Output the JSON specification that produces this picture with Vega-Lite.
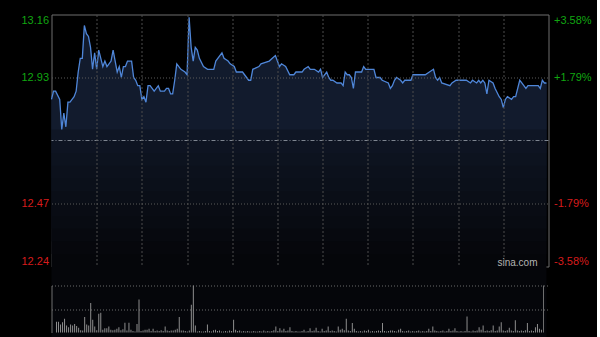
{
  "$schema": "https://vega.github.io/schema/vega-lite/v6.json",
  "background": "#000000",
  "padding": {"left": 19.5, "top": 13.5, "right": 4, "bottom": 4},
  "config": {
    "view": {"stroke": null},
    "font": "Liberation Sans",
    "axis": {"labelFont": "Liberation Sans", "labelFontSize": 11, "title": null}
  },
  "datasets": {
    "price": [
      {"t":0,"p":12.85},{"t":1,"p":12.88},{"t":2,"p":12.88},{"t":4,"p":12.85},{"t":5,"p":12.74},{"t":6,"p":12.80},{"t":7,"p":12.75},{"t":8,"p":12.84},{"t":9,"p":12.84},{"t":10,"p":12.85},
      {"t":11,"p":12.86},{"t":12,"p":12.88},{"t":13,"p":12.95},{"t":14,"p":13.00},{"t":15,"p":13.00},{"t":16,"p":13.12},{"t":17,"p":13.09},{"t":18,"p":13.08},{"t":19,"p":13.04},{"t":20,"p":12.96},
      {"t":21,"p":13.02},{"t":22,"p":12.96},{"t":23,"p":13.03},{"t":25,"p":12.97},{"t":26,"p":12.99},{"t":27,"p":12.97},{"t":28,"p":12.98},{"t":29,"p":12.99},{"t":30,"p":13.03},{"t":31,"p":12.99},
      {"t":32,"p":12.95},{"t":33,"p":12.97},{"t":34,"p":12.93},{"t":35,"p":12.97},{"t":36,"p":12.97},{"t":37,"p":12.99},{"t":39,"p":12.99},{"t":40,"p":12.93},{"t":41,"p":12.92},{"t":42,"p":12.90},
      {"t":43,"p":12.90},{"t":44,"p":12.85},{"t":45,"p":12.86},{"t":46,"p":12.84},{"t":47,"p":12.90},{"t":48,"p":12.90},{"t":49,"p":12.89},{"t":50,"p":12.88},{"t":52,"p":12.90},{"t":53,"p":12.88},
      {"t":55,"p":12.88},{"t":56,"p":12.89},{"t":57,"p":12.89},{"t":58,"p":12.87},{"t":59,"p":12.87},{"t":60,"p":12.92},{"t":61,"p":12.98},{"t":63,"p":12.96},{"t":65,"p":12.95},{"t":66,"p":12.94},
      {"t":67,"p":13.15},{"t":68,"p":13.04},{"t":69,"p":12.99},{"t":70,"p":13.04},{"t":71,"p":13.03},{"t":72,"p":13.00},{"t":74,"p":12.97},{"t":76,"p":12.96},{"t":79,"p":12.96},{"t":80,"p":12.99},
      {"t":83,"p":13.02},{"t":84,"p":13.00},{"t":86,"p":12.99},{"t":87,"p":12.98},{"t":89,"p":12.97},{"t":90,"p":12.95},{"t":93,"p":12.95},{"t":94,"p":12.94},{"t":96,"p":12.92},{"t":97,"p":12.92},
      {"t":98,"p":12.96},{"t":101,"p":12.97},{"t":102,"p":12.98},{"t":106,"p":12.99},{"t":109,"p":13.01},{"t":110,"p":12.99},{"t":111,"p":12.97},{"t":112,"p":12.98},{"t":114,"p":12.97},{"t":116,"p":12.94},
      {"t":118,"p":12.94},{"t":119,"p":12.95},{"t":122,"p":12.95},{"t":123,"p":12.96},{"t":125,"p":12.97},{"t":126,"p":12.96},{"t":128,"p":12.96},{"t":130,"p":12.95},{"t":131,"p":12.96},{"t":132,"p":12.93},
      {"t":134,"p":12.95},{"t":135,"p":12.93},{"t":136,"p":12.92},{"t":137,"p":12.92},{"t":139,"p":12.91},{"t":141,"p":12.91},{"t":142,"p":12.90},{"t":143,"p":12.95},{"t":144,"p":12.94},{"t":145,"p":12.94},
      {"t":146,"p":12.93},{"t":147,"p":12.89},{"t":148,"p":12.95},{"t":151,"p":12.95},{"t":152,"p":12.97},{"t":153,"p":12.96},{"t":157,"p":12.96},{"t":158,"p":12.93},{"t":160,"p":12.93},{"t":161,"p":12.92},
      {"t":164,"p":12.91},{"t":165,"p":12.89},{"t":166,"p":12.90},{"t":167,"p":12.92},{"t":168,"p":12.93},{"t":170,"p":12.92},{"t":171,"p":12.91},{"t":172,"p":12.92},{"t":175,"p":12.92},{"t":176,"p":12.94},
      {"t":182,"p":12.94},{"t":184,"p":12.95},{"t":186,"p":12.96},{"t":187,"p":12.93},{"t":188,"p":12.92},{"t":189,"p":12.93},{"t":190,"p":12.91},{"t":194,"p":12.90},{"t":195,"p":12.91},{"t":197,"p":12.92},
      {"t":202,"p":12.92},{"t":204,"p":12.91},{"t":205,"p":12.92},{"t":207,"p":12.91},{"t":208,"p":12.92},{"t":209,"p":12.91},{"t":210,"p":12.92},{"t":211,"p":12.91},{"t":212,"p":12.87},{"t":213,"p":12.92},
      {"t":215,"p":12.91},{"t":216,"p":12.89},{"t":218,"p":12.86},{"t":219,"p":12.85},{"t":220,"p":12.82},{"t":221,"p":12.85},{"t":222,"p":12.86},{"t":224,"p":12.85},{"t":225,"p":12.86},{"t":226,"p":12.86},
      {"t":228,"p":12.92},{"t":229,"p":12.91},{"t":231,"p":12.89},{"t":232,"p":12.90},{"t":237,"p":12.90},{"t":238,"p":12.89},{"t":239,"p":12.92},{"t":240,"p":12.91},{"t":241,"p":12.91}
    ],
    "vol": [
      {"t":0,"v":23},{"t":1,"v":23},{"t":2,"v":17},{"t":3,"v":22},{"t":4,"v":29},{"t":5,"v":15},{"t":6,"v":11},{"t":7,"v":17},{"t":8,"v":15},{"t":9,"v":18},
      {"t":10,"v":14},{"t":11,"v":10},{"t":12,"v":5},{"t":13,"v":4},{"t":14,"v":33},{"t":15,"v":17},{"t":16,"v":15},{"t":17,"v":63},{"t":18,"v":27},{"t":19,"v":13},
      {"t":20,"v":5},{"t":21,"v":40},{"t":22,"v":42},{"t":23,"v":6},{"t":24,"v":9},{"t":25,"v":9},{"t":26,"v":13},{"t":27,"v":6},{"t":28,"v":5},{"t":29,"v":6},
      {"t":30,"v":8},{"t":31,"v":11},{"t":32,"v":5},{"t":33,"v":7},{"t":34,"v":21},{"t":35,"v":4},{"t":36,"v":21},{"t":37,"v":6},{"t":38,"v":3},{"t":39,"v":2},
      {"t":40,"v":18},{"t":41,"v":70},{"t":42,"v":3},{"t":43,"v":4},{"t":44,"v":6},{"t":45,"v":6},{"t":46,"v":8},{"t":47,"v":3},{"t":48,"v":8},{"t":49,"v":3},
      {"t":50,"v":4},{"t":51,"v":3},{"t":52,"v":5},{"t":53,"v":3},{"t":54,"v":13},{"t":55,"v":4},{"t":56,"v":3},{"t":57,"v":4},{"t":58,"v":4},{"t":59,"v":6},
      {"t":60,"v":8},{"t":61,"v":33},{"t":62,"v":4},{"t":63,"v":4},{"t":64,"v":3},{"t":65,"v":2},{"t":66,"v":4},{"t":67,"v":59},{"t":68,"v":100},{"t":69,"v":15},
      {"t":70,"v":2},{"t":71,"v":3},{"t":72,"v":2},{"t":73,"v":2},{"t":74,"v":3},{"t":75,"v":17},{"t":76,"v":3},{"t":77,"v":2},{"t":78,"v":5},{"t":79,"v":6},
      {"t":80,"v":3},{"t":81,"v":4},{"t":82,"v":2},{"t":83,"v":2},{"t":84,"v":3},{"t":85,"v":2},{"t":86,"v":4},{"t":87,"v":3},{"t":88,"v":27},{"t":89,"v":6},
      {"t":90,"v":3},{"t":91,"v":4},{"t":92,"v":2},{"t":93,"v":3},{"t":94,"v":2},{"t":95,"v":3},{"t":96,"v":2},{"t":97,"v":2},{"t":98,"v":3},{"t":99,"v":2},
      {"t":100,"v":2},{"t":101,"v":3},{"t":102,"v":2},{"t":103,"v":4},{"t":104,"v":2},{"t":105,"v":3},{"t":106,"v":2},{"t":107,"v":3},{"t":108,"v":5},{"t":109,"v":13},
      {"t":110,"v":3},{"t":111,"v":9},{"t":112,"v":4},{"t":113,"v":8},{"t":114,"v":3},{"t":115,"v":4},{"t":116,"v":11},{"t":117,"v":3},{"t":118,"v":2},{"t":119,"v":3},
      {"t":120,"v":2},{"t":121,"v":2},{"t":122,"v":3},{"t":123,"v":6},{"t":124,"v":2},{"t":125,"v":3},{"t":126,"v":9},{"t":127,"v":3},{"t":128,"v":4},{"t":129,"v":10},
      {"t":130,"v":3},{"t":131,"v":2},{"t":132,"v":8},{"t":133,"v":3},{"t":134,"v":4},{"t":135,"v":13},{"t":136,"v":3},{"t":137,"v":4},{"t":138,"v":3},{"t":139,"v":2},
      {"t":140,"v":13},{"t":141,"v":6},{"t":142,"v":8},{"t":143,"v":5},{"t":144,"v":29},{"t":145,"v":4},{"t":146,"v":3},{"t":147,"v":20},{"t":148,"v":8},{"t":149,"v":3},
      {"t":150,"v":2},{"t":151,"v":3},{"t":152,"v":2},{"t":153,"v":4},{"t":154,"v":3},{"t":155,"v":6},{"t":156,"v":2},{"t":157,"v":3},{"t":158,"v":2},{"t":159,"v":3},
      {"t":160,"v":4},{"t":161,"v":3},{"t":162,"v":20},{"t":163,"v":3},{"t":164,"v":2},{"t":165,"v":3},{"t":166,"v":4},{"t":167,"v":4},{"t":168,"v":3},{"t":169,"v":2},
      {"t":170,"v":6},{"t":171,"v":8},{"t":172,"v":3},{"t":173,"v":2},{"t":174,"v":3},{"t":175,"v":4},{"t":176,"v":2},{"t":177,"v":3},{"t":178,"v":2},{"t":179,"v":3},
      {"t":180,"v":4},{"t":181,"v":2},{"t":182,"v":3},{"t":183,"v":2},{"t":184,"v":3},{"t":185,"v":8},{"t":186,"v":3},{"t":187,"v":13},{"t":188,"v":4},{"t":189,"v":3},
      {"t":190,"v":2},{"t":191,"v":3},{"t":192,"v":4},{"t":193,"v":2},{"t":194,"v":3},{"t":195,"v":8},{"t":196,"v":3},{"t":197,"v":4},{"t":198,"v":9},{"t":199,"v":3},
      {"t":200,"v":2},{"t":201,"v":3},{"t":202,"v":2},{"t":203,"v":3},{"t":204,"v":34},{"t":205,"v":3},{"t":206,"v":2},{"t":207,"v":4},{"t":208,"v":3},{"t":209,"v":4},
      {"t":210,"v":11},{"t":211,"v":6},{"t":212,"v":15},{"t":213,"v":3},{"t":214,"v":4},{"t":215,"v":3},{"t":216,"v":5},{"t":217,"v":15},{"t":218,"v":3},{"t":219,"v":4},
      {"t":220,"v":13},{"t":221,"v":22},{"t":222,"v":4},{"t":223,"v":3},{"t":224,"v":5},{"t":225,"v":10},{"t":226,"v":4},{"t":227,"v":3},{"t":228,"v":26},{"t":229,"v":4},
      {"t":230,"v":3},{"t":231,"v":4},{"t":232,"v":3},{"t":233,"v":5},{"t":234,"v":20},{"t":235,"v":3},{"t":236,"v":4},{"t":237,"v":3},{"t":238,"v":11},{"t":239,"v":18},
      {"t":240,"v":8},{"t":241,"v":6}
    ]
  },
  "bounds": "flush",
  "spacing": 19,
  "vconcat": [
    {
      "width": 497,
      "height": 252,
      "view": {"stroke": "#6e6e6e", "strokeWidth": 1},
      "data": {"name": "price"},
      "resolve": {"scale": {"y": "independent"}},
      "layer": [
        {
          "layer": [
            {
              "mark": {"type": "area", "interpolate": "linear", "color": "#05060a"},
              "encoding": {
                "x": {
                  "field": "t", "type": "quantitative",
                  "scale": {"domain": [0, 242], "nice": false, "zero": false},
                  "axis": {"values": [22, 44, 66, 88, 110, 132, 154, 176, 198, 220], "grid": true, "gridColor": "#4c4c4c", "gridDash": [2, 2], "labels": false, "ticks": false, "domain": false, "zindex": 1}
                },
                "y": {
                  "field": "p", "type": "quantitative",
                  "scale": {"domain": [12.24, 13.16], "nice": false, "zero": false},
                  "axis": {
                    "orient": "left",
                    "values": [12.24, 12.47, 12.93, 13.16],
                    "format": ".2f",
                    "grid": true,
                    "gridColor": "#5a5a5a",
                    "gridDash": [1, 2],
                    "gridOpacity": {"condition": {"test": "datum.value < 12.3 || datum.value > 13.1", "value": 0}, "value": 1},
                    "ticks": false,
                    "domain": false,
                    "labelPadding": 3,
                    "labelFlush": true,
                    "labelColor": {"condition": {"test": "datum.value > 12.7", "value": "#11a611"}, "value": "#d81c1c"},
                    "zindex": 1
                  }
                }
              }
            },
            {"mark": {"type": "area", "color": "#06070c"}, "encoding": {"x": {"field": "t", "type": "quantitative"}, "y": {"field": "p", "type": "quantitative"}, "y2": {"datum": 12.286}}},
            {"mark": {"type": "area", "color": "#07090f"}, "encoding": {"x": {"field": "t", "type": "quantitative"}, "y": {"field": "p", "type": "quantitative"}, "y2": {"datum": 12.332}}},
            {"mark": {"type": "area", "color": "#080b12"}, "encoding": {"x": {"field": "t", "type": "quantitative"}, "y": {"field": "p", "type": "quantitative"}, "y2": {"datum": 12.378}}},
            {"mark": {"type": "area", "color": "#090c14"}, "encoding": {"x": {"field": "t", "type": "quantitative"}, "y": {"field": "p", "type": "quantitative"}, "y2": {"datum": 12.424}}},
            {"mark": {"type": "area", "color": "#0a0e17"}, "encoding": {"x": {"field": "t", "type": "quantitative"}, "y": {"field": "p", "type": "quantitative"}, "y2": {"datum": 12.47}}},
            {"mark": {"type": "area", "color": "#0b101a"}, "encoding": {"x": {"field": "t", "type": "quantitative"}, "y": {"field": "p", "type": "quantitative"}, "y2": {"datum": 12.516}}},
            {"mark": {"type": "area", "color": "#0c111c"}, "encoding": {"x": {"field": "t", "type": "quantitative"}, "y": {"field": "p", "type": "quantitative"}, "y2": {"datum": 12.562}}},
            {"mark": {"type": "area", "color": "#0d131f"}, "encoding": {"x": {"field": "t", "type": "quantitative"}, "y": {"field": "p", "type": "quantitative"}, "y2": {"datum": 12.608}}},
            {"mark": {"type": "area", "color": "#0e1422"}, "encoding": {"x": {"field": "t", "type": "quantitative"}, "y": {"field": "p", "type": "quantitative"}, "y2": {"datum": 12.654}}},
            {"mark": {"type": "area", "color": "#0f1625"}, "encoding": {"x": {"field": "t", "type": "quantitative"}, "y": {"field": "p", "type": "quantitative"}, "y2": {"datum": 12.70}}},
            {"mark": {"type": "area", "color": "#121b2d"}, "encoding": {"x": {"field": "t", "type": "quantitative"}, "y": {"field": "p", "type": "quantitative"}, "y2": {"datum": 12.74}}},
            {
              "data": {"values": [{}]},
              "mark": {"type": "rule", "color": "#7e8590", "strokeDash": [4, 2, 1, 2], "strokeWidth": 1},
              "encoding": {"y": {"datum": 12.7, "type": "quantitative"}}
            },
            {
              "data": {"values": [{}]},
              "mark": {"type": "text", "text": "sina.com", "align": "right", "baseline": "alphabetic", "dx": -11, "dy": -1, "fontSize": 10, "color": "#b4b4b4", "font": "Liberation Sans"},
              "encoding": {
                "x": {"datum": 242, "type": "quantitative"},
                "y": {"datum": 12.24, "type": "quantitative"}
              }
            }
          ]
        },
        {
          "mark": {"type": "line", "color": "#4f86d8", "strokeWidth": 1.3},
          "encoding": {
            "x": {"field": "t", "type": "quantitative"},
            "y": {
              "field": "p", "type": "quantitative",
              "scale": {"domain": [12.24, 13.16], "nice": false, "zero": false},
              "axis": {
                "orient": "right",
                "values": [12.24, 12.47, 12.93, 13.16],
                "labelExpr": "datum.value > 13 ? '+3.58%' : datum.value > 12.7 ? '+1.79%' : datum.value > 12.3 ? '-1.79%' : '-3.58%'",
                "grid": false,
                "ticks": false,
                "domain": false,
                "labelPadding": 5,
                "labelFlush": true,
                "labelColor": {"condition": {"test": "datum.value > 12.7", "value": "#11a611"}, "value": "#d81c1c"}
              }
            }
          }
        }
      ]
    },
    {
      "width": 497,
      "height": 47,
      "data": {"name": "vol"},
      "layer": [
        {
          "mark": {"type": "bar", "size": 1, "color": "#8e8e8e"},
          "encoding": {
            "x": {
              "field": "t", "type": "quantitative",
              "scale": {"domain": [0, 242], "nice": false, "zero": false},
              "axis": {"domain": true, "domainColor": "#6e6e6e", "labels": false, "ticks": false, "grid": false}
            },
            "y": {
              "field": "v", "type": "quantitative",
              "scale": {"domain": [0, 100], "nice": false},
              "axis": {"values": [50, 100], "grid": true, "gridColor": "#6a6a6a", "gridDash": [1, 2], "domain": true, "domainColor": "#6e6e6e", "labels": false, "ticks": false}
            }
          }
        },
        {
          "data": {"values": [{}]},
          "mark": {"type": "rule", "color": "#6e6e6e"},
          "encoding": {
            "x": {"datum": 242, "type": "quantitative", "axis": null}
          }
        }
      ]
    }
  ]
}
